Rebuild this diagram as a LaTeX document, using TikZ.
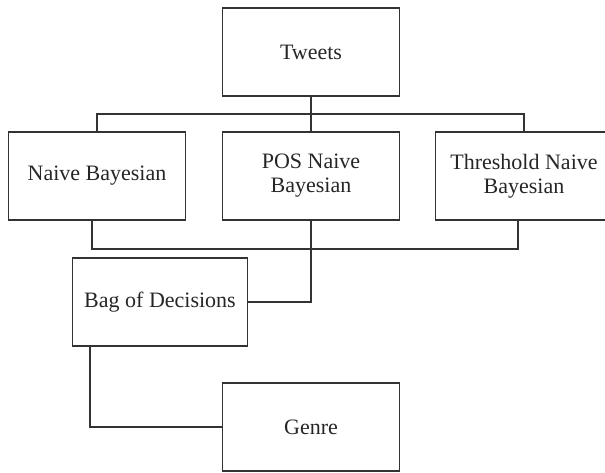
\documentclass[tikz,border=0pt]{standalone}
\usepackage{fontspec}
\setmainfont{Liberation Serif}
\begin{document}
\begin{tikzpicture}[x=0.5pt, y=-0.5pt, line width=0.8pt, draw=black!80,
 box/.style={rectangle, draw, minimum width=88.5pt, minimum height=44pt, align=center,
   font=\fontsize{11}{12}\selectfont, text=black!85}]
 \useasboundingbox (0,0) rectangle (605,472);
 \clip (0,0) rectangle (605,472);

 \draw node[box] (tweets) at (311,52) {Tweets};
 \draw node[box] (naive) at (97,176) {Naive Bayesian};
 \draw node[box] (pos) at (311,176) {POS Naive\\Bayesian};
 \draw node[box] (thresh) at (524,176) {Threshold Naive\\Bayesian};
 \draw node[box, minimum width=87.5pt] (bag) at (160,302) {Bag of Decisions};
 \draw node[box] (genre) at (311,427) {Genre};

 \coordinate (topbus) at (311,114);
 \coordinate (botbus) at (311,249);

 \draw (tweets) -- (pos);
 \draw (naive.north) |- (topbus) -| (thresh.north);
 \draw ([xshift=-2.5pt]naive.south) |- (botbus) -| ([xshift=-3pt]thresh.south);
 \draw (pos.south) |- (bag.east);
 \draw ([xshift=9pt]bag.south west) |- (genre.west);
\end{tikzpicture}
\end{document}
